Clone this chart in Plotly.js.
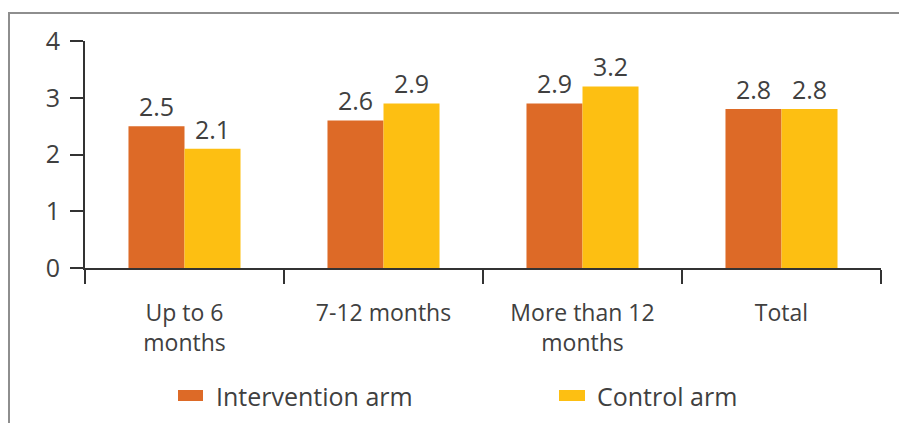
<!DOCTYPE html>
<html>
<head>
<meta charset="utf-8">
<script src="https://cdn.plot.ly/plotly-3.0.1.min.js"></script>
<style>
  html, body { margin: 0; padding: 0; background: #ffffff; }
  #wrap { position: relative; width: 899px; height: 423px; overflow: hidden; }
  #frame {
    position: absolute; left: 8px; top: 12px; right: -4px; bottom: -4px;
    border-left: 2px solid #8e8e8e; border-top: 2px solid #8e8e8e;
  }
  #chart { position: absolute; left: 0; top: 0; width: 899px; height: 423px; }
</style>
</head>
<body>
<div id="wrap">
  <div id="frame"></div>
  <div id="chart"></div>
</div>
<script>
// Mean scores by duration, two study arms
const categories = ['Up to 6<br>months', '7-12 months', 'More than 12<br>months', 'Total'];
const intervention = [2.5, 2.6, 2.9, 2.8];
const control = [2.1, 2.9, 3.2, 2.8];
const seriesNames = ['Intervention arm', 'Control arm'];
const seriesColors = ['#DD6A27', '#FDBF12'];
const yTickValues = [0, 1, 2, 3, 4];

const W = 899, H = 423;
const M = { l: 85, r: 18, t: 41, b: 155 };
const plotW = W - M.l - M.r, plotH = H - M.t - M.b;
// pixel -> paper helpers for the hand-drawn legend
const px = x => (x - M.l) / plotW;
const py = y => (H - M.b - y) / plotH;

const FONT = '"Open Sans", "DejaVu Sans", sans-serif';
const TXT = '#404040';
const AX = '#333333';

const seriesValues = [intervention, control];
const traces = seriesValues.map((vals, i) => ({
  type: 'bar',
  name: seriesNames[i],
  x: categories,
  y: vals,
  marker: { color: seriesColors[i], line: { width: 0 } },
  texttemplate: '%{y:.1f}',
  textposition: 'outside',
  textfont: { family: FONT, size: 25, color: TXT },
  cliponaxis: false,
  hoverinfo: 'skip',
  showlegend: false
}));

// Legend: swatch + label per series
const legendPos = [
  { sx0: 178, sx1: 203, tx: 214 },
  { sx0: 559, sx1: 585, tx: 595 }
];
const shapes = legendPos.map((p, i) => ({
  type: 'rect', xref: 'paper', yref: 'paper',
  x0: px(p.sx0), x1: px(p.sx1), y0: py(401), y1: py(390),
  fillcolor: seriesColors[i], line: { width: 0 }
}));
const annotations = legendPos.map((p, i) => ({
  xref: 'paper', yref: 'paper', x: px(p.tx), y: py(396),
  xanchor: 'left', yanchor: 'middle', showarrow: false,
  text: seriesNames[i],
  font: { family: FONT, size: 25, color: TXT }
}));

const layout = {
  width: W, height: H,
  margin: M,
  paper_bgcolor: 'rgba(0,0,0,0)',
  plot_bgcolor: 'rgba(0,0,0,0)',
  barmode: 'group',
  bargap: 0.437,
  bargroupgap: 0,
  showlegend: false,
  font: { family: FONT, size: 25, color: TXT },
  xaxis: {
    type: 'category',
    showline: true, linecolor: AX, linewidth: 2,
    ticks: 'outside', tickson: 'boundaries', ticklen: 14, tickwidth: 2, tickcolor: AX,
    ticklabelstandoff: 23,
    tickfont: { family: FONT, size: 23, color: TXT },
    showgrid: false, zeroline: false, fixedrange: true
  },
  yaxis: {
    range: [0, 4],
    tickvals: yTickValues,
    showline: true, linecolor: AX, linewidth: 2,
    ticks: 'outside', ticklen: 13, tickwidth: 2, tickcolor: AX,
    ticklabelstandoff: 5,
    tickfont: { family: FONT, size: 25, color: TXT },
    showgrid: false, zeroline: false, fixedrange: true
  },
  shapes: shapes,
  annotations: annotations
};

Plotly.newPlot('chart', traces, layout, { displayModeBar: false, staticPlot: true });
</script>
</body>
</html>
